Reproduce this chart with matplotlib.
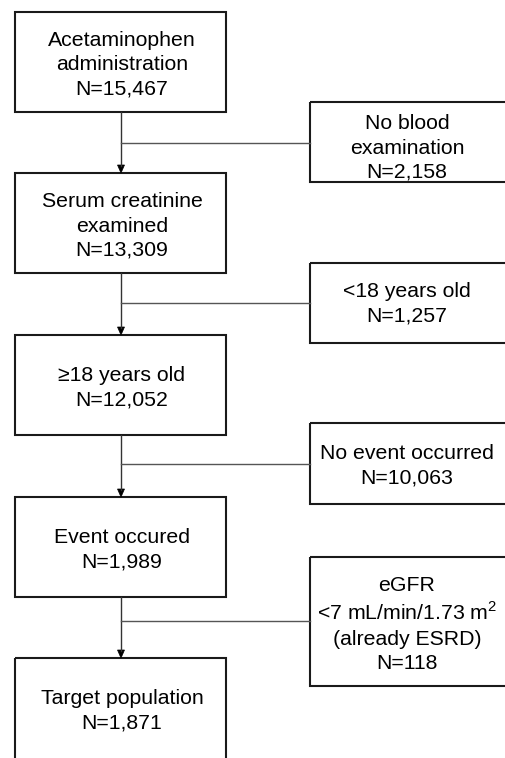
import matplotlib.pyplot as plt
from matplotlib.patches import Rectangle, Polygon

plt.rcParams['font.family'] = ['Liberation Sans', 'DejaVu Sans']
plt.rcParams['mathtext.fontset'] = 'custom'
plt.rcParams['mathtext.rm'] = 'Liberation Sans'

# flow boxes (main path) and exclusion boxes
main_labels = [
    "Acetaminophen\nadministration\nN=15,467",
    "Serum creatinine\nexamined\nN=13,309",
    "\u226518 years old\nN=12,052",
    "Event occured\nN=1,989",
    "Target population\nN=1,871",
]
excl_labels = [
    "No blood\nexamination\nN=2,158",
    "<18 years old\nN=1,257",
    "No event occurred\nN=10,063",
    "eGFR\n<7 mL/min/1.73 m$^2$\n(already ESRD)\nN=118",
]

# layout in pixels (image coordinates, y downwards)
main_x0, main_x1 = 15, 226
main_tops = [12, 173, 335, 497, 658]
main_h = 100
excl_x0, excl_x1 = 310, 520
excl_spans = [(102, 182), (263, 343), (423, 504), (557, 686)]
excl_dy = [6, 1, 2, 3]
branch_y = [143, 303, 464, 621]
stem_x = 121
text_x_excl = 407

fig = plt.figure(figsize=(5.06, 7.58), dpi=100)
ax = fig.add_axes([0, 0, 1, 1])
ax.set_xlim(0, 506)
ax.set_ylim(758, 0)
ax.axis('off')

fs = 15.3
box_col = '#1a1a1a'

for i, (top, lab) in enumerate(zip(main_tops, main_labels)):
    # last box runs off the bottom of the figure
    h = main_h if i < len(main_tops) - 1 else main_h + 20
    ax.add_patch(Rectangle((main_x0, top), main_x1 - main_x0, h,
                           fill=False, ec=box_col, lw=1.5))
    ax.text(stem_x + 1, top + main_h / 2 + 3, lab, ha='center', va='center',
            fontsize=fs, linespacing=1.36, color='black')

for (t, b), dy, lab in zip(excl_spans, excl_dy, excl_labels):
    ax.add_patch(Rectangle((excl_x0, t), excl_x1 - excl_x0, b - t,
                           fill=False, ec=box_col, lw=1.5))
    ax.text(text_x_excl, (t + b) / 2 + dy, lab, ha='center', va='center',
            fontsize=fs, linespacing=1.36, color='black')

# connectors
for i in range(4):
    y0 = main_tops[i] + main_h
    y1 = main_tops[i + 1]
    ax.plot([stem_x, stem_x], [y0, y1 - 7], color='#333333', lw=1.0)
    ax.add_patch(Polygon([[stem_x - 3.5, y1 - 8], [stem_x + 3.5, y1 - 8], [stem_x, y1]],
                         closed=True, fc='black', ec='black', lw=0.5))
    ax.plot([stem_x, excl_x0], [branch_y[i], branch_y[i]], color='#555555', lw=1.0)

fig.savefig('out.png', dpi=100)
